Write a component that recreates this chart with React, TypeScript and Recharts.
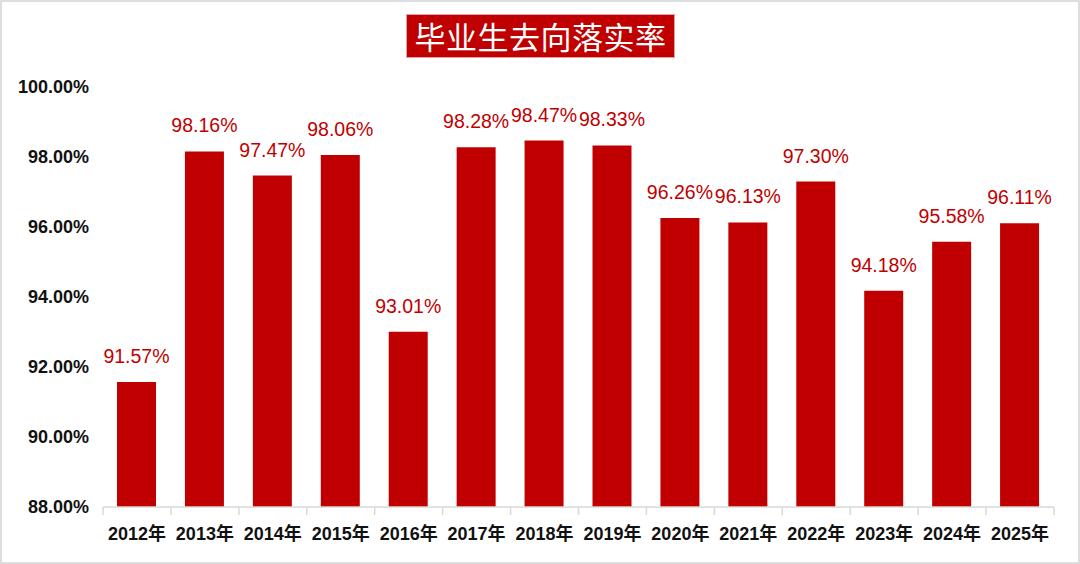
import React from 'react';
import { BarChart, Bar, XAxis, YAxis, LabelList } from 'recharts';

// 毕业生去向落实率 by year
const years = ['2012年', '2013年', '2014年', '2015年', '2016年', '2017年', '2018年', '2019年', '2020年', '2021年', '2022年', '2023年', '2024年', '2025年'];
const rates = [91.57, 98.16, 97.47, 98.06, 93.01, 98.28, 98.47, 98.33, 96.26, 96.13, 97.3, 94.18, 95.58, 96.11];
const yTicks = [88, 90, 92, 94, 96, 98, 100];

const RED = '#C00000';
const AXIS_GRAY = '#d9d9d9';
const FONT = '"Liberation Sans", "Noto Sans CJK SC", sans-serif';

const fmt = (v: number) => `${Number(v).toFixed(2)}%`;

// x tick: label + tick mark on the category boundaries (Excel style)
const YearTick = (props: any) => {
  const { x, y, payload, index, visibleTicksCount } = props;
  const half = payload && payload.offset ? payload.offset : 951 / 14 / 2;
  const isLast = index === visibleTicksCount - 1;
  return (
    <g>
      <line x1={x - half} x2={x - half} y1={y - 8} y2={y} stroke={AXIS_GRAY} strokeWidth={1.5} />
      {isLast && <line x1={x + half} x2={x + half} y1={y - 8} y2={y} stroke={AXIS_GRAY} strokeWidth={1.5} />}
      <text x={x} y={y + 25} textAnchor="middle" fill="#111" fontSize={18} fontWeight="bold" fontFamily={FONT}>
        {payload.value}
      </text>
    </g>
  );
};

export default function App() {
  const data = years.map((year, i) => ({ year, rate: rates[i] }));

  return (
    <div style={{ position: 'absolute', left: 0, top: 0, width: 1080, height: 564, background: '#fff' }}>
      <div
        style={{
          position: 'absolute',
          left: 0,
          top: 0,
          width: 1080,
          height: 564,
          boxSizing: 'border-box',
          border: '2px solid #dedede',
        }}
      />
      <BarChart width={1080} height={564} data={data} margin={{ top: 87, right: 26, left: 8, bottom: 27 }}>
        <XAxis
          dataKey="year"
          axisLine={{ stroke: AXIS_GRAY, strokeWidth: 1.5 }}
          tickLine={false}
          tickSize={8}
          tickMargin={0}
          height={30}
          interval={0}
          tick={<YearTick />}
        />
        <YAxis
          domain={[88, 100]}
          ticks={yTicks}
          allowDataOverflow
          axisLine={false}
          tickLine={false}
          tickSize={0}
          tickMargin={14}
          width={95}
          tickFormatter={fmt}
          tick={{ fill: '#111', fontSize: 18, fontWeight: 'bold', fontFamily: FONT }}
        />
        <Bar dataKey="rate" fill={RED} barSize={39} isAnimationActive={false}>
          <LabelList
            dataKey="rate"
            position="top"
            offset={19}
            formatter={(v: any) => fmt(v)}
            style={{ fill: RED, fontSize: 19.5, fontFamily: FONT }}
          />
        </Bar>
      </BarChart>
      <div
        style={{
          position: 'absolute',
          left: 406,
          top: 14,
          width: 269,
          height: 44,
          background: RED,
          border: '1px solid #e8a0a0',
          boxSizing: 'border-box',
          color: '#fff',
          fontFamily: '"Noto Sans CJK SC", sans-serif',
          fontSize: 31,
          lineHeight: '42px',
          textAlign: 'center',
          letterSpacing: 0.5,
        }}
      >
        毕业生去向落实率
      </div>
    </div>
  );
}
